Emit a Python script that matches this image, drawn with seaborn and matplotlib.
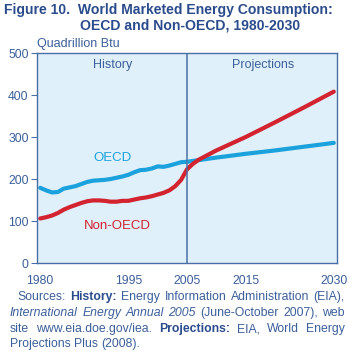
import numpy as np
import pandas as pd
import matplotlib
matplotlib.use("Agg")
import matplotlib.pyplot as plt
import seaborn as sns

# Values (quadrillion Btu)
years = [1980, 1981, 1982, 1983, 1984, 1985, 1986, 1987, 1988, 1989,
         1990, 1991, 1992, 1993, 1994, 1995, 1996, 1997, 1998, 1999,
         2000, 2001, 2002, 2003, 2004, 2005, 2006, 2007,
         2010, 2015, 2020, 2025, 2030]
oecd = [179, 173, 168, 169, 177, 180, 183, 188, 193, 196,
        197, 198, 200, 203, 206, 210, 216, 221, 222, 225,
        230, 229, 232, 236, 240, 241, 243, 245,
        251, 260, 268, 277, 286]
non_oecd = [106, 109, 113, 119, 127, 133, 138, 143, 147, 149,
            149, 148, 146, 146, 148, 148, 151, 154, 156, 159,
            163, 167, 173, 183, 198, 223, 236, 246,
            268, 300, 335, 371, 408]
x_ticks = [1980, 1995, 2005, 2015, 2030]
y_ticks = [0, 100, 200, 300, 400, 500]

df = pd.DataFrame({
    "year": years * 2,
    "value": oecd + non_oecd,
    "region": ["OECD"] * len(years) + ["Non-OECD"] * len(years),
})

# colours
bg = "#dff0fa"
blue_line = "#1ba1dc"
red_line = "#d2232f"
txt = "#3b5f9a"
dark = "#2b4c8c"
frame = "#4a6fa5"

sns.set_theme(style="white")
plt.rcParams["font.family"] = ["Liberation Sans", "DejaVu Sans"]

W, H = 355, 353
fig = plt.figure(figsize=(W / 100, H / 100), dpi=100)
ax = fig.add_axes([37 / W, 1 - 263 / H, 300 / W, 210 / H])
ax.set_facecolor(bg)

sns.lineplot(data=df, x="year", y="value", hue="region",
             palette={"OECD": blue_line, "Non-OECD": red_line},
             linewidth=3.0, legend=False, ax=ax)

ax.axvline(2005, color=frame, linewidth=1.1)
ax.set_xlim(1979.45, 2030.55)
ax.set_ylim(0, 500)
ax.set_xticks(x_ticks)
ax.set_yticks(y_ticks)
ax.set_xlabel("")
ax.set_ylabel("")
ax.tick_params(axis="y", length=4, width=0.8, color=frame, labelsize=8.8,
               labelcolor=txt, pad=2, direction="out", left=True)
ax.tick_params(axis="x", length=0, labelsize=8.8, labelcolor=txt, pad=9)
for s in ax.spines.values():
    s.set_color(frame)
    s.set_linewidth(1.0)


def px_text(x, y, s, **kw):
    # place text by pixel position measured from the top-left corner
    return fig.text(x / W, 1 - y / H, s, **kw)


px_text(37, 44, "Quadrillion Btu", fontsize=9, color=txt, ha="left", va="center")
px_text(113, 65, "History", fontsize=9, color=txt, ha="center", va="center")
px_text(263, 65, "Projections", fontsize=9, color=txt, ha="center", va="center")
px_text(112, 158, "OECD", fontsize=9.5, color=blue_line, ha="center", va="center")
px_text(117, 226, "Non-OECD", fontsize=9.5, color=red_line, ha="center", va="center")

# title
px_text(4, 10, "Figure 10.  World Marketed Energy Consumption:",
        fontsize=10.1, fontweight="bold", color=dark, ha="left", va="center")
px_text(80, 25, "OECD and Non-OECD, 1980-2030",
        fontsize=10.1, fontweight="bold", color=dark, ha="left", va="center")

# sources note, justified word by word
lines = [
    [("Sources:", "n"), ("History:", "b"), ("Energy", "n"), ("Information", "n"),
     ("Administration", "n"), ("(EIA),", "n")],
    [("International", "i"), ("Energy", "i"), ("Annual", "i"), ("2005", "i"),
     ("(June-October", "n"), ("2007),", "n"), ("web", "n")],
    [("site", "n"), ("www.eia.doe.gov/iea.", "n"), ("Projections:", "b"),
     ("EIA,", "n"), ("World", "n"), ("Energy", "n")],
    [("Projections", "n"), ("Plus", "n"), ("(2008).", "n")],
]
line_y = [297, 313, 329, 344]
line_x0 = [17, 10, 10, 10]
x_right = 345
fig.canvas.draw()
renderer = fig.canvas.get_renderer()
for i, (words, yy, x0) in enumerate(zip(lines, line_y, line_x0)):
    objs = []
    for w, st in words:
        kw = dict(fontsize=8.8, color=txt, ha="left", va="center")
        if st == "b":
            kw.update(fontweight="bold", color=dark)
        if st == "i":
            kw.update(fontstyle="italic")
        objs.append(px_text(0, yy, w, **kw))
    widths = [t.get_window_extent(renderer).width for t in objs]
    if i == len(lines) - 1:
        gap = 3.2
    else:
        gap = (x_right - x0 - sum(widths)) / (len(objs) - 1)
    x = x0
    for t, wd in zip(objs, widths):
        t.set_x(x / W)
        x += wd + gap

fig.savefig("out.png", dpi=100)
